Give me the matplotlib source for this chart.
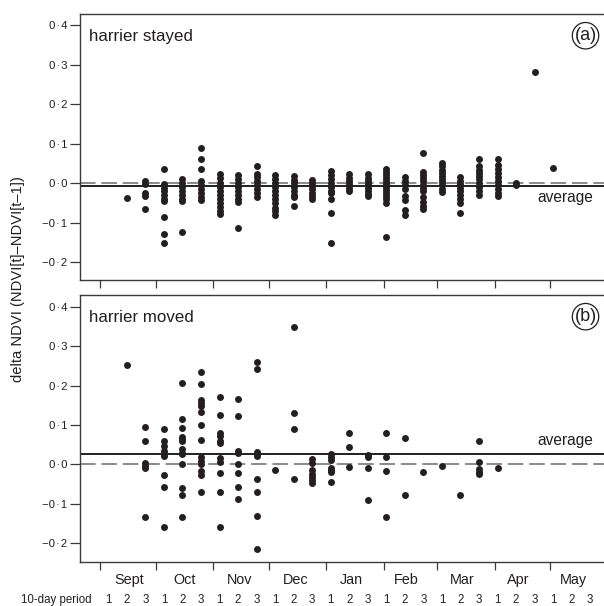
import matplotlib
matplotlib.use("Agg")
import matplotlib.pyplot as plt
import numpy as np

plt.rcParams['font.family'] = ['Liberation Sans', 'DejaVu Sans']

# ---------------- data ----------------
months = ["Sept", "Oct", "Nov", "Dec", "Jan", "Feb", "Mar", "Apr", "May"]
month_days = [30, 31, 30, 31, 31, 29, 31, 30, 31]
period_labels = ["1", "2", "3"]

# delta NDVI per 10-day period (Sept-1 ... May-3), harrier stayed
stayed_values = [
    [],
    [-0.038],
    [0.005, -0.002, -0.025, -0.033, -0.065],
    [0.035, -0.002, -0.012, -0.02, -0.03, -0.04, -0.046, -0.087, -0.128, -0.152],
    [0.01, 0.0, -0.01, -0.02, -0.03, -0.04, -0.045, -0.123],
    [0.088, 0.06, 0.035, 0.005, -0.005, -0.015, -0.025, -0.035, -0.043],
    [0.022, 0.012, 0.0, -0.01, -0.02, -0.03, -0.04, -0.05, -0.06, -0.07, -0.078],
    [0.02, 0.01, 0.0, -0.01, -0.02, -0.03, -0.04, -0.048, -0.115],
    [0.044, 0.022, 0.015, 0.005, -0.005, -0.015, -0.025, -0.036],
    [0.02, 0.01, 0.0, -0.01, -0.02, -0.03, -0.04, -0.05, -0.063, -0.07, -0.08],
    [0.018, 0.008, 0.0, -0.01, -0.02, -0.03, -0.035, -0.057],
    [0.008, 0.0, -0.008, -0.016, -0.025, -0.033, -0.04],
    [0.03, 0.02, 0.01, 0.0, -0.01, -0.02, -0.026, -0.041, -0.075, -0.153],
    [0.022, 0.013, 0.005, -0.003, -0.012, -0.02],
    [0.022, 0.013, 0.005, -0.003, -0.012, -0.02, -0.028, -0.033],
    [0.035, 0.028, 0.02, 0.013, 0.005, -0.003, -0.01, -0.018, -0.025, -0.033, -0.04, -0.05, -0.136],
    [0.015, 0.005, -0.005, -0.015, -0.033, -0.042, -0.068, -0.08],
    [0.077, 0.028, 0.02, 0.012, 0.004, -0.004, -0.012, -0.02, -0.035, -0.047, -0.057, -0.067],
    [0.05, 0.042, 0.034, 0.026, 0.018, 0.01, 0.002, -0.006, -0.014, -0.022],
    [0.015, 0.006, -0.003, -0.012, -0.02, -0.03, -0.04, -0.05, -0.077],
    [0.062, 0.042, 0.034, 0.026, 0.018, 0.01, 0.0, -0.01, -0.02, -0.03],
    [0.06, 0.045, 0.035, 0.025, 0.015, 0.005, -0.005, -0.015, -0.025, -0.032],
    [0.0, -0.006],
    [0.281],
    [0.037],
    [],
    [],
]

# harrier moved
moved_values = [
    [],
    [0.251],
    [0.094, 0.058, 0.003, -0.003, -0.008, -0.134],
    [0.089, 0.06, 0.046, 0.033, 0.026, 0.021, -0.028, -0.057, -0.158],
    [0.207, 0.114, 0.091, 0.07, 0.064, 0.058, 0.04, 0.03, 0.025, 0.001, -0.059, -0.079, -0.134],
    [0.234, 0.205, 0.164, 0.156, 0.148, 0.132, 0.099, 0.062, 0.018, 0.009, 0.002, -0.016, -0.027, -0.07],
    [0.171, 0.126, 0.08, 0.073, 0.06, 0.054, 0.015, 0.007, -0.021, -0.07, -0.159],
    [0.165, 0.123, 0.035, 0.028, 0.0, -0.023, -0.058, -0.089],
    [0.259, 0.243, 0.032, 0.026, 0.02, -0.036, -0.071, -0.131, -0.214],
    [-0.015],
    [0.349, 0.131, 0.089, -0.038],
    [0.014, 0.004, -0.015, -0.024, -0.032, -0.04, -0.048],
    [0.025, 0.018, 0.011, -0.009, -0.015, -0.02, -0.044],
    [0.08, 0.045, -0.006],
    [0.024, 0.018, -0.01, -0.09],
    [0.08, 0.019, -0.017, -0.133],
    [0.066, -0.078],
    [-0.019],
    [-0.003],
    [-0.078],
    [0.059, 0.007, -0.013, -0.019, -0.025],
    [-0.01],
    [],
    [],
    [],
    [],
    [],
]

stayed_average = -0.008
moved_average = 0.025

panel_titles = ["harrier stayed", "harrier moved"]
panel_tags = ["(a)", "(b)"]
y_ticks = [-0.2, -0.1, 0.0, 0.1, 0.2, 0.3, 0.4]
ylabel = "delta NDVI (NDVI[t]\u2013NDVI[t\u20131])"

# ---------------- layout ----------------
W, H = 604, 606
fig = plt.figure(figsize=(W / 100, H / 100), dpi=100)

def rect(l, t, r, b):
    return [l / W, 1 - b / H, (r - l) / W, (b - t) / H]

ax_top = fig.add_axes(rect(80, 14, 612.4, 280))
ax_bot = fig.add_axes(rect(80, 295, 612.4, 561.7))

ink = "#231f20"
frame = "#3a3a3a"

cum_days = np.concatenate([[0], np.cumsum(month_days)[:-1]])
month_ticks = -0.45 + cum_days / 10.0
month_label_x = [3 * k + 1.1 for k in range(len(months))]

def fmt(v):
    s = f"{abs(v):.1f}".replace(".", "\u200a\u00b7\u200a")
    if v < -1e-9:
        s = "\u2212" + s
    return s

for ax, vals, avg, title, tag, ylim, avg_y in [
    (ax_top, stayed_values, stayed_average, panel_titles[0], panel_tags[0], (-0.2456, 0.428), -0.047),
    (ax_bot, moved_values, moved_average, panel_titles[1], panel_tags[1], (-0.247, 0.4297), 0.049),
]:
    xs = [i for i, col in enumerate(vals) for _ in col]
    ys = [v for col in vals for v in col]
    ax.axhline(0.0, color="#8a8a8a", lw=1.4, dashes=(8, 3), zorder=1)
    ax.axhline(avg, color=ink, lw=1.4, zorder=2)
    ax.plot(xs, ys, "o", ms=5.0, color=ink, mec="none", zorder=3)
    ax.set_xlim(-1.53, 27.2)
    ax.set_ylim(*ylim)
    ax.set_yticks(y_ticks)
    ax.set_yticklabels([fmt(v) for v in y_ticks])
    ax.set_xticks(month_ticks)
    ax.set_xticklabels([])
    ax.tick_params(axis="y", direction="out", length=7.5, width=0.9, pad=1.5,
                   labelsize=8.2, color=frame, labelcolor=ink)
    ax.tick_params(axis="x", direction="out", length=6, width=0.9, color=frame)
    for s in ["top", "left", "bottom"]:
        ax.spines[s].set_color(frame)
        ax.spines[s].set_linewidth(1.0)
    ax.spines["right"].set_visible(False)
    ax.text(-1.02, ylim[1] - 0.068, title, fontsize=12.2, color=ink, va="baseline", ha="left")
    ax.text(23.15, avg_y, "average", fontsize=11.2, color=ink, va="baseline", ha="left")
    ax.text(25.75, ylim[1] - 0.055, tag, fontsize=13, color=ink, va="center", ha="center",
            bbox=dict(boxstyle="circle,pad=0.12", fc="none", ec=ink, lw=0.9))

# month labels and 10-day period labels
for k, m in enumerate(months):
    ax_bot.annotate(m, xy=(month_label_x[k], 0), xycoords=("data", "axes fraction"),
                    xytext=(0, -22.3), textcoords="offset pixels",
                    ha="center", va="baseline", fontsize=10.4, color=ink)
    for j, p in enumerate(period_labels):
        ax_bot.annotate(p, xy=(3 * k + j, 0), xycoords=("data", "axes fraction"),
                        xytext=(0, -41.3), textcoords="offset pixels",
                        ha="center", va="baseline", fontsize=8.3, color=ink)

fig.text(20.7 / W, 1 - 603 / H, "10-day period", fontsize=8.3, color=ink,
         ha="left", va="baseline")

fig.text(18 / W, 1 - 279 / H, ylabel, rotation=90, fontsize=10.6, color=ink,
         ha="center", va="center")

fig.savefig("out.png", dpi=100)
